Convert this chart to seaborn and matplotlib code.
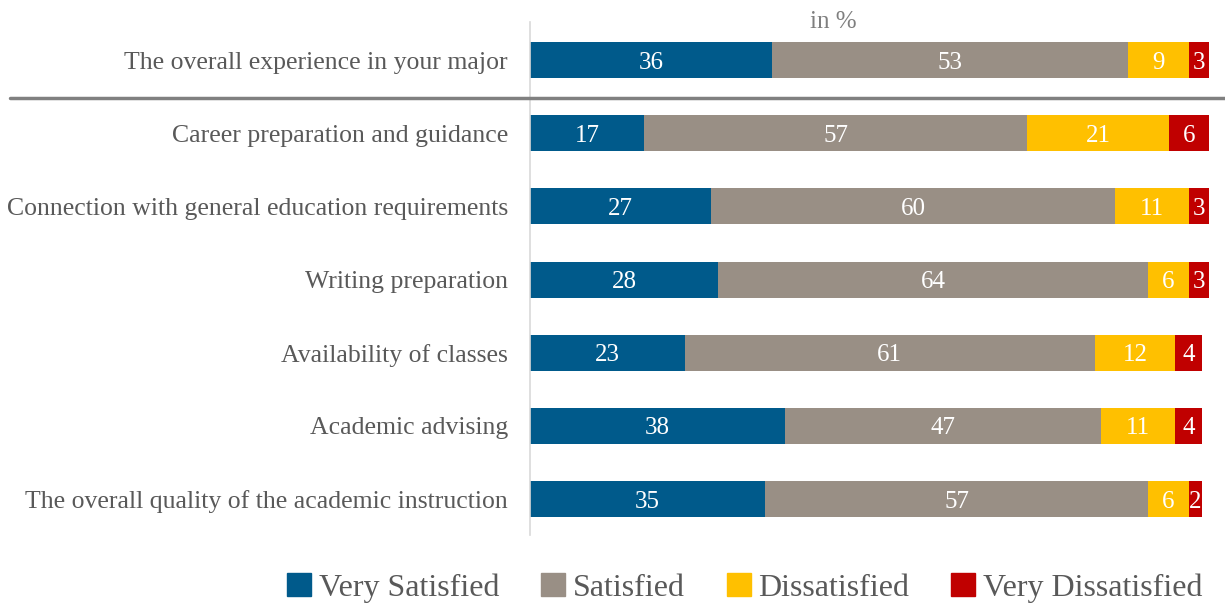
import numpy as np
import pandas as pd
import seaborn as sns
import matplotlib.pyplot as plt

# Survey data (percent)
items = [
    "The overall experience in your major",
    "Career preparation and guidance",
    "Connection with general education requirements",
    "Writing preparation",
    "Availability of classes",
    "Academic advising",
    "The overall quality of the academic instruction",
]
very_satisfied = [36, 17, 27, 28, 23, 38, 35]
satisfied = [53, 57, 60, 64, 61, 47, 57]
dissatisfied = [9, 21, 11, 6, 12, 11, 6]
very_dissatisfied = [3, 6, 3, 3, 4, 4, 2]

levels = ["Very Satisfied", "Satisfied", "Dissatisfied", "Very Dissatisfied"]
colors = ["#005A8B", "#998F85", "#FFC000", "#C00000"]

sns.set_theme(style="white")
plt.rcParams["font.family"] = ["Liberation Serif", "DejaVu Serif"]

df = pd.DataFrame({"item": items,
                   levels[0]: very_satisfied,
                   levels[1]: satisfied,
                   levels[2]: dissatisfied,
                   levels[3]: very_dissatisfied})

vals = df[levels].to_numpy(dtype=float)
cum = vals.cumsum(axis=1)
starts = cum - vals

fig = plt.figure(figsize=(12.25, 6.03), dpi=100)
ax = fig.add_axes([530 / 1225, 1 - 535 / 603, 695 / 1225, 513 / 603])

# stacked bars: draw cumulative totals from the right-most segment down
for i in range(len(levels) - 1, -1, -1):
    tmp = pd.DataFrame({"item": items, "value": cum[:, i]})
    sns.barplot(data=tmp, y="item", x="value", color=colors[i], width=0.49,
                saturation=1, linewidth=0, ax=ax, orient="h")

# segment labels
for r in range(len(items)):
    for i in range(len(levels)):
        ax.text(starts[r, i] + vals[r, i] / 2, r, f"{int(vals[r, i])}",
                ha="center", va="center_baseline", color="white", fontsize=18)

ax.set_xlim(0, 103.4)
ax.set_ylim(6.49, -0.52)
ax.set_xlabel("")
ax.set_ylabel("")
ax.set_xticks([])
ax.tick_params(axis="y", length=0, labelsize=18.5, labelcolor="#595959", pad=16)
for s in ["top", "right", "bottom"]:
    ax.spines[s].set_visible(False)
ax.spines["left"].set_color("#D9D9D9")
ax.spines["left"].set_linewidth(1.2)

ax.text(0.436, 1.0, "in %", transform=ax.transAxes, ha="center", va="center",
        fontsize=18, color="#7F7F7F")

# separator line under the first row
fig.add_artist(plt.Line2D([10 / 1225, 1.0], [1 - 98 / 603, 1 - 98 / 603],
                          color="#808080", linewidth=2.5))

handles = [plt.Rectangle((0, 0), 1, 1, color=c) for c in colors]
fig.legend(handles, levels, loc="center", bbox_to_anchor=(0.608, 1 - 588 / 603),
           ncol=4, frameon=False, fontsize=23, handlelength=0.75, handleheight=0.75,
           handletextpad=0.25, columnspacing=1.3, labelcolor="#595959")

fig.savefig("out.png", dpi=100)
